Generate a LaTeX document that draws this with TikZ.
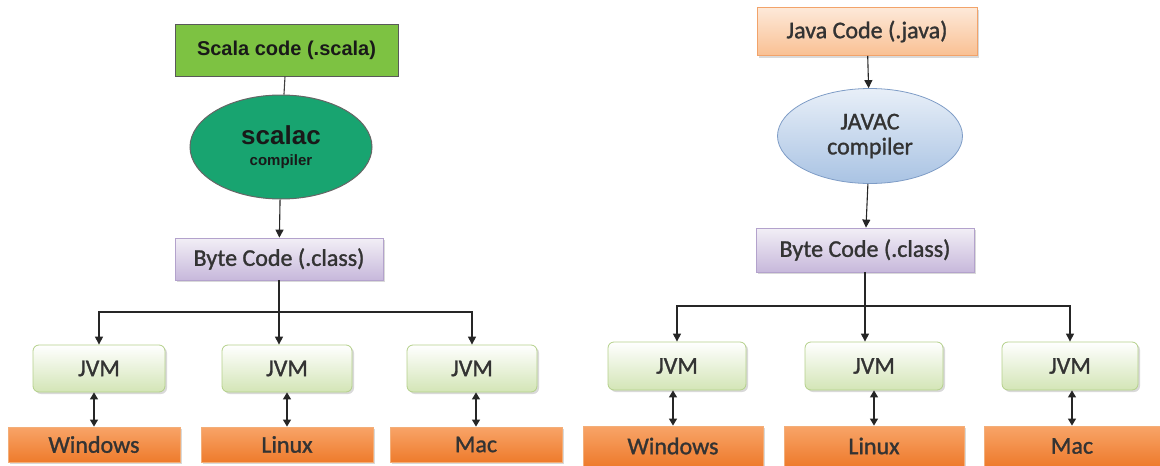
\documentclass[tikz,border=0pt]{standalone}
\usepackage{fontspec}
\setmainfont{Carlito}[FakeBold=1.2]
\newfontfamily\arialfont{Liberation Sans}
\usetikzlibrary{arrows.meta,shapes.geometric,shadows}

\definecolor{scalagreen}{HTML}{7DC242}
\definecolor{scalacgreen}{HTML}{18A470}
\definecolor{javatop}{HTML}{FDE9D9}
\definecolor{javabot}{HTML}{F9C093}
\definecolor{javaline}{HTML}{F2A36A}
\definecolor{javactop}{HTML}{E8EFF8}
\definecolor{javacbot}{HTML}{A9C3E3}
\definecolor{javacline}{HTML}{7E9CC6}
\definecolor{bytetop}{HTML}{F2EFF6}
\definecolor{bytebot}{HTML}{C7B8DB}
\definecolor{byteline}{HTML}{B3A2CC}
\definecolor{jvmtop}{HTML}{FFFFFF}
\definecolor{jvmbot}{HTML}{D3E5B6}
\definecolor{jvmline}{HTML}{B4D08A}
\definecolor{ostop}{HTML}{F8A468}
\definecolor{osbot}{HTML}{EE7B2C}
\definecolor{osline}{HTML}{F3AE78}

\tikzset{
  txt/.style={font=\fontsize{24}{26}\selectfont, text=black!80},
  shade box/.style={rectangle, inner sep=0pt, line width=0.8pt,
    drop shadow={shadow xshift=2pt, shadow yshift=-2pt, opacity=0.3}},
  scalabox/.style={rectangle, draw=black!65, fill=scalagreen, line width=1pt, inner sep=0pt,
    font=\arialfont\bfseries\fontsize{20}{22}\selectfont, text=black!90},
  scalacell/.style={ellipse, draw=black!60, fill=scalacgreen, line width=1pt, inner sep=0pt,
    align=center, font=\arialfont\bfseries\fontsize{15}{21}\selectfont, text=black!90},
  javabox/.style={shade box, txt, draw=javaline, top color=javatop, bottom color=javabot},
  javacell/.style={ellipse, txt, draw=javacline, top color=javactop, bottom color=javacbot,
    line width=0.8pt, inner sep=0pt, align=center},
  bytebox/.style={shade box, txt, draw=byteline, top color=bytetop, bottom color=bytebot},
  jvmbox/.style={shade box, txt, draw=jvmline, top color=jvmtop, bottom color=jvmbot,
    rounded corners=6pt},
  osbox/.style={shade box, txt, draw=osline, top color=ostop, bottom color=osbot},
  arr/.style={-{Triangle[width=8pt,length=8pt]}, line width=1.1pt, draw=black!85},
  darr/.style={{Triangle[width=8pt,length=7pt]}-{Triangle[width=8pt,length=7pt]},
    line width=1.1pt, draw=black!85}
}

\begin{document}
\begin{tikzpicture}[x=1pt,y=-1pt]
  \useasboundingbox (0,0) rectangle (1160,466);

  % Scala side
  \node[scalabox, minimum width=223pt, minimum height=52pt] (scala) at (286.5,50) {Scala code (.scala)};
  \node[scalacell, minimum width=182pt, minimum height=104pt] (scalac) at (281,147)
    {{\fontsize{26}{26}\selectfont scalac}\\compiler};
  \node[bytebox, minimum width=208pt, minimum height=42pt] (bytel) at (279,259) {Byte Code (.class)};

  \node[jvmbox, minimum width=132pt, minimum height=47pt] (jvml1) at (99,368.5) {JVM};
  \node[jvmbox, minimum width=130pt, minimum height=47pt] (jvml2) at (287,368.5) {JVM};
  \node[jvmbox, minimum width=130pt, minimum height=47pt] (jvml3) at (472,368.5) {JVM};

  \node[osbox, minimum width=172pt, minimum height=35pt] (osl1) at (94,444.5) {Windows};
  \node[osbox, minimum width=172pt, minimum height=35pt] (osl2) at (287,444.5) {Linux};
  \node[osbox, minimum width=172pt, minimum height=35pt] (osl3) at (476,444.5) {Mac};

  \draw[line width=1.1pt, draw=black!75] (scala) -- (scalac);
  \draw[arr] (scalac) -- (bytel);
  \coordinate (forkl) at (bytel.south |- 0,312);
  \draw[arr] (bytel.south) -- (bytel.south |- jvml2.north);
  \draw[arr] (forkl) -| (jvml1.north);
  \draw[arr] (forkl) -| (jvml3.north);
  \draw[darr] (osl1.north) -- (osl1.north |- jvml1.south);
  \draw[darr] (osl2.north) -- (osl2.north |- jvml2.south);
  \draw[darr] (osl3.north) -- (osl3.north |- jvml3.south);

  % Java side
  \node[javabox, minimum width=220pt, minimum height=48pt] (java) at (867,31.5) {Java Code (.java)};
  \node[javacell, minimum width=185pt, minimum height=95pt] (javac) at (870,136)
    {JAVAC\\[-1pt]compiler};
  \node[bytebox, minimum width=218pt, minimum height=44pt] (byter) at (865,250) {Byte Code (.class)};

  \node[jvmbox, minimum width=138pt, minimum height=48pt] (jvmr1) at (677,366) {JVM};
  \node[jvmbox, minimum width=138pt, minimum height=48pt] (jvmr2) at (874,366) {JVM};
  \node[jvmbox, minimum width=136pt, minimum height=48pt] (jvmr3) at (1070,366) {JVM};

  \node[osbox, minimum width=180pt, minimum height=40pt] (osr1) at (673,446) {Windows};
  \node[osbox, minimum width=180pt, minimum height=40pt] (osr2) at (874,446) {Linux};
  \node[osbox, minimum width=176pt, minimum height=40pt] (osr3) at (1072,446) {Mac};

  \draw[arr] (java) -- (javac);
  \draw[arr] (javac) -- (byter);
  \coordinate (forkr) at (byter.south |- 0,306);
  \draw[arr] (byter.south) -- (byter.south |- jvmr2.north);
  \draw[arr] (forkr) -| (jvmr1.north);
  \draw[arr] (forkr) -| (jvmr3.north);
  \draw[darr] (osr1.north) -- (osr1.north |- jvmr1.south);
  \draw[darr] (osr2.north) -- (osr2.north |- jvmr2.south);
  \draw[darr] (osr3.north) -- (osr3.north |- jvmr3.south);
\end{tikzpicture}
\end{document}
